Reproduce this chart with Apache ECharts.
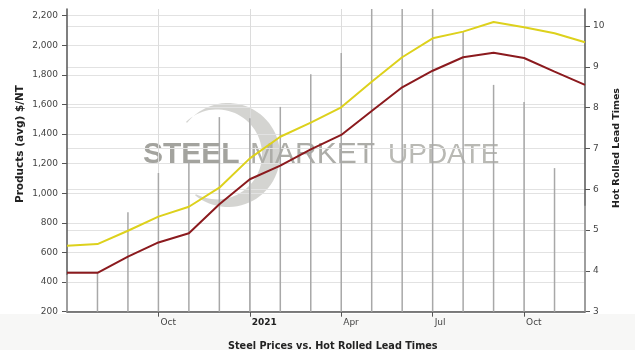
<!DOCTYPE html>
<html>
<head>
<meta charset="utf-8">
<script src="https://cdn.jsdelivr.net/npm/echarts@6/dist/echarts.min.js"></script>
<style>
html,body{margin:0;padding:0;background:#fff;}
#chart{width:635px;height:350px;}
</style>
</head>
<body>
<div id="chart"></div>
<script>
// ---- data ----
const months = ['2020-07','2020-08','2020-09','2020-10','2020-11','2020-12',
                '2021-01','2021-02','2021-03','2021-04','2021-05','2021-06',
                '2021-07','2021-08','2021-09','2021-10','2021-11','2021-12'];
const tickIndex = [3, 6, 9, 12, 15];
const tickText = ['Oct', '2021', 'Apr', 'Jul', 'Oct'];
const hrcPrice = [463, 463, 572, 668, 730, 926, 1095, 1187, 1297, 1394, 1556, 1716, 1828, 1919, 1950, 1914, 1822, 1732];
const coatedPrice = [646, 657, 747, 842, 909, 1038, 1236, 1382, 1477, 1581, 1754, 1919, 2047, 2092, 2157, 2122, 2081, 2020];
const leadTimes = [3.9, 3.95, 5.44, 6.4, 6.7, 7.77, 7.74, 8.02, 8.82, 9.34, 10.5, 10.5, 10.5, 9.88, 8.56, 8.14, 6.52, 5.6];

const FONT = '"DejaVu Sans", Verdana, sans-serif';
const isTick = (i) => tickIndex.indexOf(i) >= 0;

// watermark crescent outline (decoration only)
function crescent() {
  const pts = [];
  const o = { x: 228, y: 155, r: 52 }, n = { x: 217, y: 154.4, r: 45 };
  const a0 = Math.atan2(122 - o.y, 186 - o.x), a1 = Math.atan2(194 - o.y, 196 - o.x);
  for (let k = 0; k <= 60; k++) {
    const a = a0 + (a1 - a0) * k / 60;
    pts.push([o.x + o.r * Math.cos(a), o.y + o.r * Math.sin(a)]);
  }
  const b0 = Math.atan2(194 - n.y, 196 - n.x), b1 = Math.atan2(122 - n.y, 186 - n.x);
  for (let k = 0; k <= 60; k++) {
    const a = b0 + (b1 - b0) * k / 60;
    pts.push([n.x + n.r * Math.cos(a), n.y + n.r * Math.sin(a)]);
  }
  return pts;
}

const chart = echarts.init(document.getElementById('chart'));
chart.setOption({
  animation: false,
  backgroundColor: '#ffffff',
  title: {
    text: 'Steel Prices vs. Hot Rolled Lead Times',
    left: 223, top: 336,
    textStyle: { fontFamily: FONT, fontSize: 9.7, fontWeight: 'bold', color: '#222' }
  },
  grid: { left: 67, right: 50, top: 9, bottom: 38.3 },
  graphic: [
    { type: 'rect', z: -3, shape: { x: 0, y: 314, width: 635, height: 36 }, style: { fill: '#f7f7f6' } },
    { type: 'polygon', z: -2, shape: { points: crescent() }, style: { fill: '#cdcdc9', opacity: 0.85 } },
    { type: 'text', z: -1, style: { text: 'STEEL', x: 143, y: 155, font: 'bold 30px "Liberation Sans", Arial, sans-serif', fill: '#a3a39e', verticalAlign: 'middle' } },
    { type: 'text', z: -1, style: { text: 'MARKET', x: 250, y: 155, font: '30px "Liberation Sans", Arial, sans-serif', fill: '#adada8', verticalAlign: 'middle' } },
    { type: 'text', z: -1, style: { text: 'UPDATE', x: 388, y: 155, font: '28px "Liberation Sans", Arial, sans-serif', fill: '#b9b9b4', verticalAlign: 'middle' } },
    { type: 'text', rotation: Math.PI / 2, x: 20, y: 144,
      style: { text: 'Products (avg) $/NT', font: 'bold 10.5px ' + FONT, fill: '#222', align: 'center', verticalAlign: 'middle' } },
    { type: 'text', rotation: Math.PI / 2, x: 617, y: 148,
      style: { text: 'Hot Rolled Lead Times', font: 'bold 9.5px ' + FONT, fill: '#222', align: 'center', verticalAlign: 'middle' } }
  ],
  xAxis: {
    type: 'category',
    data: months,
    boundaryGap: false,
    axisLine: { lineStyle: { color: '#555', width: 1.5 } },
    axisTick: { show: true, length: 5, interval: (i) => isTick(i), lineStyle: { color: '#555' } },
    axisLabel: {
      interval: (i) => isTick(i),
      formatter: (v, i) => {
        const k = tickIndex.indexOf(i);
        const t = k >= 0 ? tickText[k] : '';
        return /^\d{4}$/.test(t) ? '{b|' + t + '}' : t;
      },
      align: 'left', padding: [0, 0, 0, 2], margin: 6,
      fontFamily: FONT, fontSize: 9, color: '#444',
      rich: { b: { fontFamily: FONT, fontSize: 9, fontWeight: 'bold', color: '#222' } }
    },
    splitLine: { show: true, interval: (i) => isTick(i), lineStyle: { color: '#dcdcdc', width: 1 } }
  },
  yAxis: [
    {
      type: 'value', position: 'left', min: 200, max: 2245, interval: 200,
      axisLine: { show: true, lineStyle: { color: '#555', width: 1.5 } },
      axisTick: { show: true, length: 5, lineStyle: { color: '#555' } },
      axisLabel: {
        showMaxLabel: false, margin: 9,
        fontFamily: FONT, fontSize: 9, color: '#444',
        formatter: (v) => v.toLocaleString('en-US')
      },
      splitLine: { show: true, showMaxLine: false, lineStyle: { color: '#e2e2e2' } }
    },
    {
      type: 'value', position: 'right', min: 3, max: 10.42, interval: 1,
      axisLine: { show: true, lineStyle: { color: '#555', width: 1.5 } },
      axisTick: { show: true, length: 5, lineStyle: { color: '#555' } },
      axisLabel: {
        showMaxLabel: false, margin: 8,
        fontFamily: FONT, fontSize: 9, color: '#444'
      },
      splitLine: { show: true, showMaxLine: false, lineStyle: { color: '#e2e2e2' } }
    }
  ],
  series: [
    {
      name: 'Hot Rolled Lead Times', type: 'bar', yAxisIndex: 1, data: leadTimes,
      barWidth: 1.5, itemStyle: { color: '#a8a8a8' }, z: 1
    },
    {
      name: 'Coated', type: 'line', yAxisIndex: 0, data: coatedPrice,
      symbol: 'none', lineStyle: { color: '#ddd11c', width: 2 }, z: 3
    },
    {
      name: 'HRC', type: 'line', yAxisIndex: 0, data: hrcPrice,
      symbol: 'none', lineStyle: { color: '#8b1a1e', width: 2 }, z: 4
    }
  ]
});
</script>
</body>
</html>
